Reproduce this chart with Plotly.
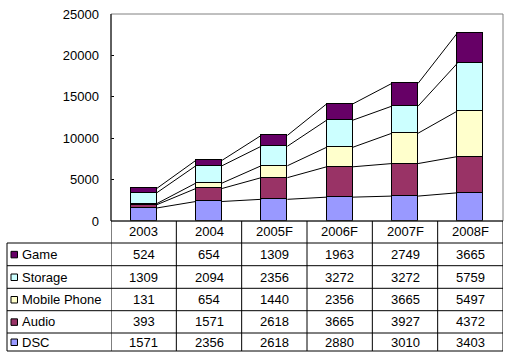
import plotly.graph_objects as go

# ---- data ----
years = ["2003", "2004", "2005F", "2006F", "2007F", "2008F"]
dsc = [1571, 2356, 2618, 2880, 3010, 3403]
audio = [393, 1571, 2618, 3665, 3927, 4372]
mobile_phone = [131, 654, 1440, 2356, 3665, 5497]
storage = [1309, 2094, 2356, 3272, 3272, 5759]
game = [524, 654, 1309, 1963, 2749, 3665]

series_names = ["DSC", "Audio", "Mobile Phone", "Storage", "Game"]
series_values = [dsc, audio, mobile_phone, storage, game]
series_colors = ["#9999FF", "#993366", "#FFFFCC", "#CCFFFF", "#660066"]
y_ticks = [0, 5000, 10000, 15000, 20000, 25000]

# ---- layout geometry (pixels) ----
W, H = 512, 360
PL, PR, PT, PB = 111, 503, 14, 221
TABLE_LEFT = 7
ROW_LINES = [243, 265.7, 288.3, 310.7, 333, 351]
BAR_W = 0.4
FONT = "Liberation Sans, Arial, sans-serif"
FS = 13


def px(x):
    return x / W


def py(y):
    return (H - y) / H


n = len(years)
xs = list(range(n))
fig = go.Figure()

# stacked bars
for name, vals, col in zip(series_names, series_values, series_colors):
    fig.add_trace(go.Bar(x=xs, y=vals, name=name, width=BAR_W,
                         marker=dict(color=col, line=dict(color="black", width=1)),
                         showlegend=False))

# series lines connecting stacked tops
cum = [0] * n
for vals in series_values:
    cum = [c + v for c, v in zip(cum, vals)]
    lx, ly = [], []
    for i in range(n - 1):
        lx += [i + BAR_W / 2, i + 1 - BAR_W / 2, None]
        ly += [cum[i], cum[i + 1], None]
    fig.add_trace(go.Scatter(x=lx, y=ly, mode="lines",
                             line=dict(color="black", width=1),
                             showlegend=False, hoverinfo="skip"))

shapes = []
# plot area border (grey top/right)
shapes.append(dict(type="rect", xref="paper", yref="paper",
                   x0=px(PL), x1=px(PR), y0=py(PB), y1=py(PT),
                   line=dict(color="#808080", width=1)))
# left axis line
shapes.append(dict(type="line", xref="paper", yref="paper",
                   x0=px(PL), x1=px(PL), y0=py(PB), y1=py(PT),
                   line=dict(color="black", width=1)))
# table: top line (axis) across categories
shapes.append(dict(type="line", xref="paper", yref="paper",
                   x0=px(PL), x1=px(PR), y0=py(PB), y1=py(PB),
                   line=dict(color="black", width=1)))
# horizontal row lines
for yy in ROW_LINES:
    shapes.append(dict(type="line", xref="paper", yref="paper",
                       x0=px(TABLE_LEFT), x1=px(PR), y0=py(yy), y1=py(yy),
                       line=dict(color="black", width=1)))
# vertical column lines
for k in range(n + 1):
    shapes.append(dict(type="line", xref="x", yref="paper",
                       x0=k - 0.5, x1=k - 0.5, y0=py(PB), y1=py(ROW_LINES[-1]),
                       line=dict(color="black", width=1)))
# table left edge
shapes.append(dict(type="line", xref="paper", yref="paper",
                   x0=px(TABLE_LEFT), x1=px(TABLE_LEFT),
                   y0=py(ROW_LINES[0]), y1=py(ROW_LINES[-1]),
                   line=dict(color="black", width=1)))

annotations = []
# header (categories)
for i, yr in enumerate(years):
    annotations.append(dict(x=i, y=py((PB + ROW_LINES[0]) / 2), xref="x", yref="paper",
                            text=yr, showarrow=False, xanchor="center", yanchor="middle",
                            font=dict(family=FONT, size=FS, color="black")))

# rows in reverse stacking order
table_rows = list(zip(series_names, series_values, series_colors))[::-1]
for r, (name, vals, col) in enumerate(table_rows):
    yc = (ROW_LINES[r] + ROW_LINES[r + 1]) / 2
    # legend key
    shapes.append(dict(type="rect", xref="paper", yref="paper",
                       x0=px(11), x1=px(17.5), y0=py(yc + 3.5), y1=py(yc - 3),
                       fillcolor=col, line=dict(color="black", width=1)))
    annotations.append(dict(x=px(20), y=py(yc), xref="paper", yref="paper",
                            text=name, showarrow=False, xanchor="left", yanchor="middle",
                            font=dict(family=FONT, size=FS, color="black")))
    for i, v in enumerate(vals):
        annotations.append(dict(x=i, y=py(yc), xref="x", yref="paper",
                                text=str(v), showarrow=False, xanchor="center",
                                yanchor="middle",
                                font=dict(family=FONT, size=FS, color="black")))

fig.update_layout(
    template="none",
    width=W, height=H,
    margin=dict(l=0, r=0, t=0, b=0),
    paper_bgcolor="white", plot_bgcolor="white",
    barmode="stack", bargap=0,
    showlegend=False,
    shapes=shapes, annotations=annotations,
    xaxis=dict(domain=[px(PL), px(PR)], range=[-0.5, n - 0.5],
               showticklabels=False, showgrid=False, zeroline=False,
               showline=False, ticks="", automargin=False),
    yaxis=dict(domain=[py(PB), py(PT)], range=[0, 25000],
               tickvals=y_ticks, ticktext=[str(t) for t in y_ticks],
               showgrid=False, zeroline=False, showline=False,
               ticks="inside", ticklen=3, tickcolor="black",
               ticklabelstandoff=11,
               tickfont=dict(family=FONT, size=FS, color="black"),
               automargin=False),
)

fig.write_html("out.html",
               config={"displayModeBar": False},
               post_script="document.body.style.margin='0px';document.body.style.overflow='hidden';")
